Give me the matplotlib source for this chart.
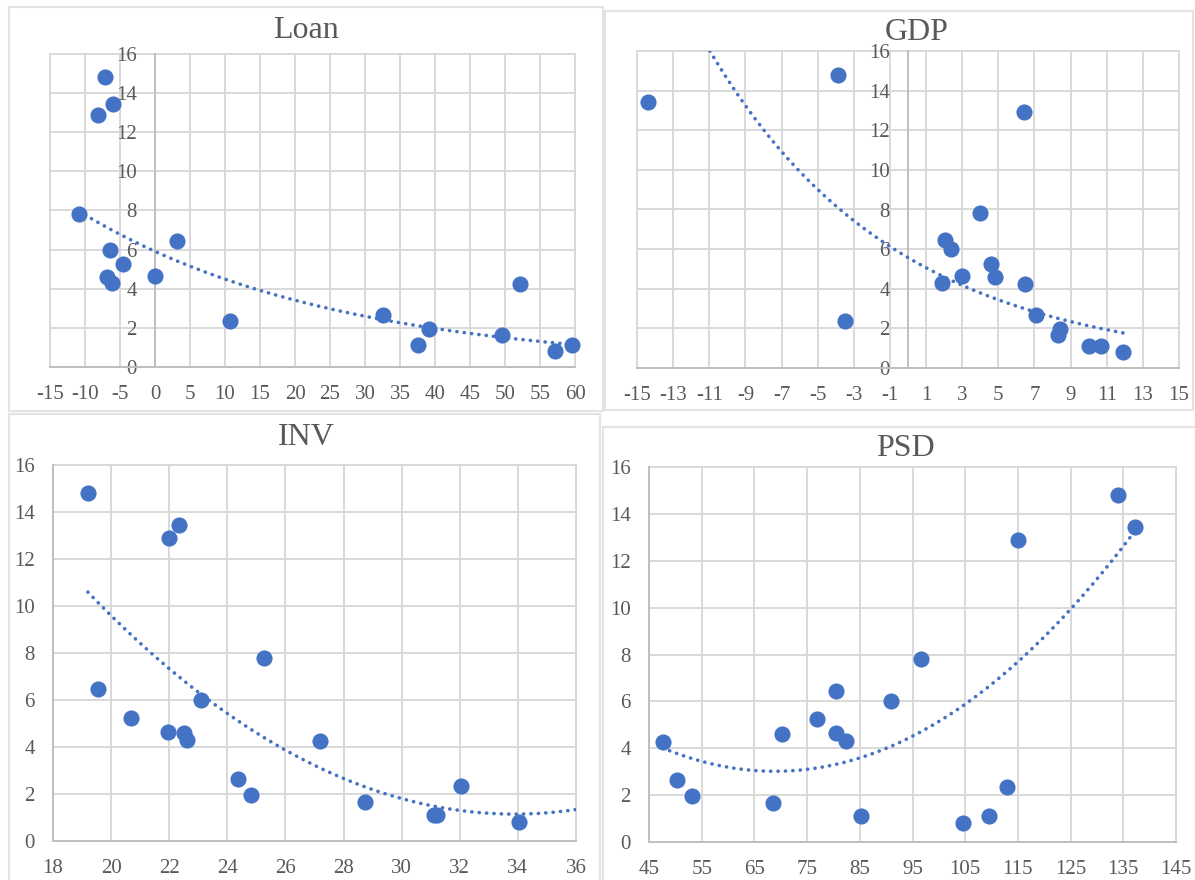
import numpy as np
import matplotlib

matplotlib.use("Agg")
import matplotlib.pyplot as plt
from matplotlib.patches import Rectangle

plt.rcParams.update({
    "font.family": "serif",
    "font.serif": ["Liberation Serif", "DejaVu Serif"],
    "axes.unicode_minus": False,
})

# shared response values (one per observation)
y_vals = [14.8, 13.45, 12.9, 7.8, 6.45, 6.0, 5.25, 4.65, 4.6, 4.3, 4.25,
          2.65, 2.35, 1.95, 1.65, 1.1, 1.1, 0.8]

loan_x = [-7.2, -6.0, -8.1, -10.9, 3.1, -6.5, -4.6, 0.0, -6.8, -6.1, 52.2,
          32.5, 10.7, 39.2, 49.5, 37.5, 59.5, 57.2]
gdp_x = [-3.9, -14.4, 6.4, 4.0, 2.05, 2.4, 4.6, 3.0, 4.8, 1.9, 6.5,
         7.1, -3.5, 8.4, 8.3, 10.0, 10.7, 11.9]
inv_x = [19.2, 22.35, 22.0, 25.25, 19.55, 23.1, 20.7, 21.95, 22.5, 22.6, 27.2,
         24.35, 32.05, 24.8, 28.75, 31.2, 31.1, 34.05]
psd_x = [134.0, 137.3, 115.1, 96.7, 80.45, 90.9, 76.8, 80.4, 70.3, 82.3, 47.6,
         50.4, 113.0, 53.2, 68.6, 85.2, 109.5, 104.6]

loan_ticks = list(range(-15, 61, 5))
gdp_ticks = list(range(-15, 16, 2))
inv_ticks = list(range(18, 37, 2))
psd_ticks = list(range(45, 146, 10))
y_ticks = list(range(0, 17, 2))

W, H = 1195, 880
BLUE = "#4472C4"
GRID = "#d9d9d9"
TXT = "#595959"


def rect_px(l, t, r, b):
    return [l / W, 1 - b / H, (r - l) / W, (b - t) / H]


def panel(fig, box, x, xticks, fit, x_end=None, y_at_zero=False):
    ax = fig.add_axes(rect_px(*box))
    x = np.asarray(x, float)
    y = np.asarray(y_vals, float)
    ax.set_xlim(xticks[0], xticks[-1])
    ax.set_ylim(0, 16)
    ax.set_xticks(xticks)
    ax.set_yticks(y_ticks)
    ax.grid(True, color=GRID, lw=1.4, clip_on=False)
    ax.set_axisbelow(True)
    for s in ("top", "right"):
        ax.spines[s].set_visible(False)
    for s in ("left", "bottom"):
        ax.spines[s].set_color("#bfbfbf")
        ax.spines[s].set_linewidth(1.4)
    if y_at_zero:
        ax.spines["left"].set_position(("data", 0))
    ax.tick_params(length=0, pad=13, labelsize=15, labelcolor=TXT)

    ax.scatter(x, y, s=135, color=BLUE, zorder=3, clip_on=False, linewidths=0)

    xx = np.linspace(x.min(), x_end if x_end is not None else x.max(), 300)
    if fit == "exp":
        b, a = np.polyfit(x, np.log(y), 1)
        yy = np.exp(a) * np.exp(b * xx)
    else:
        yy = np.polyval(np.polyfit(x, y, 2), xx)
    ax.plot(xx, yy, color=BLUE, lw=2.6, linestyle=(0, (0.05, 2.0)),
            dash_capstyle="round", zorder=4)
    return ax


fig = plt.figure(figsize=(W / 100, H / 100), dpi=100)

# chart-area borders
for l, t, r, b in [(9, 7, 603, 411), (605, 11, 1193, 410),
                   (9, 414, 600, 895), (603, 427, 1200, 895)]:
    fig.add_artist(Rectangle((l / W, 1 - b / H), (r - l) / W, (b - t) / H,
                             transform=fig.transFigure, fill=False,
                             edgecolor="#e3e3e3", lw=1.5))

panel(fig, (50, 54, 575, 367), loan_x, loan_ticks, "exp", y_at_zero=True)
panel(fig, (637, 51, 1179, 368), gdp_x, gdp_ticks, "exp", y_at_zero=True)
panel(fig, (53, 465, 576, 841), inv_x, inv_ticks, "poly", x_end=36)
panel(fig, (649, 467, 1176, 842), psd_x, psd_ticks, "poly")

for tx, ty, name in [(306, 31, "Loan"), (917, 33, "GDP"),
                     (306, 437, "INV"), (905, 448, "PSD")]:
    fig.text(tx / W, 1 - ty / H, name, ha="center", va="center",
             fontsize=23, color=TXT)

fig.savefig("out.png", dpi=100)
